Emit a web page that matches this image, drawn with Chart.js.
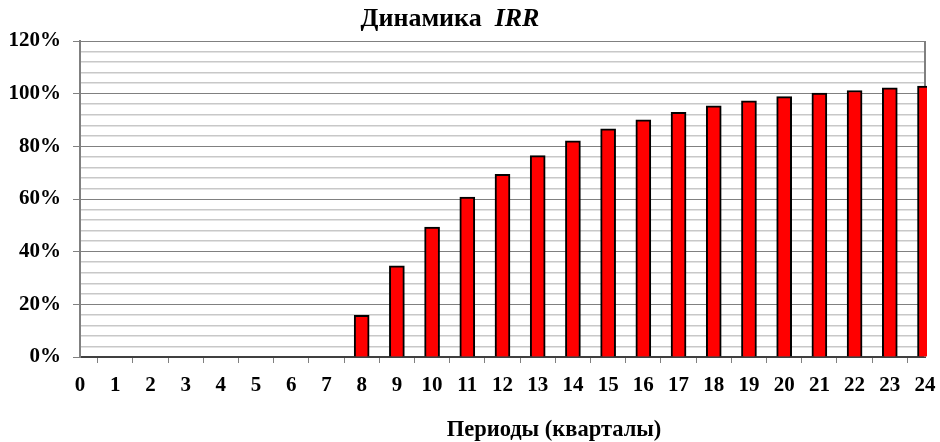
<!DOCTYPE html>
<html><head><meta charset="utf-8">
<script src="https://cdn.jsdelivr.net/npm/chart.js@4"></script>
<style>html,body{margin:0;padding:0;background:#fff}#wrap{width:940px;height:442px;position:relative}</style>
</head><body><div id="wrap"><canvas id="c"></canvas></div>
<script>
const periods = ['0','1','2','3','4','5','6','7','8','9','10','11','12','13','14','15','16','17','18','19','20','21','22','23','24'];
const irr = [null,null,null,null,null,null,null,null,15.8,34.6,49.3,60.7,69.4,76.5,82.1,86.6,90.1,92.9,95.4,97.3,98.9,100.2,101.2,102.2,102.9];
const titleMain = 'Динамика';
const titleItalic = 'IRR';
const xTitle = 'Периоды (кварталы)';
const FONT = '"Liberation Serif","Times New Roman",serif';

const textPlugin = {
  id: 'texts',
  beforeDatasetsDraw(chart) {
    const {ctx, chartArea: a} = chart;
    ctx.save();
    ctx.strokeStyle = '#808080';
    ctx.lineWidth = 2;
    ctx.beginPath();
    ctx.moveTo(a.right, a.top);
    ctx.lineTo(a.right, a.bottom);
    ctx.stroke();
    ctx.restore();
  },
  afterDraw(chart) {
    const ctx = chart.ctx;
    ctx.save();
    ctx.fillStyle = '#000';
    ctx.textBaseline = 'middle';
    ctx.font = 'bold 26px ' + FONT;
    const w1 = ctx.measureText(titleMain + '  ').width;
    ctx.font = 'bold italic 26px ' + FONT;
    const w2 = ctx.measureText(titleItalic).width;
    let x = 450 - (w1 + w2) / 2;
    ctx.font = 'bold 26px ' + FONT;
    ctx.fillText(titleMain + '  ', x, 19);
    ctx.font = 'bold italic 26px ' + FONT;
    ctx.fillText(titleItalic, x + w1, 19);
    ctx.font = 'bold 22.5px ' + FONT;
    ctx.textAlign = 'center';
    ctx.fillText(xTitle, 554, 430);
    ctx.restore();
  }
};

new Chart(document.getElementById('c'), {
  type: 'bar',
  data: {
    labels: periods,
    datasets: [{
      data: irr,
      backgroundColor: '#ff0000',
      borderColor: '#000000',
      borderWidth: 2,
      barThickness: 15,
      clip: {left: 0, right: 2, top: 10, bottom: 0}
    }]
  },
  options: {
    responsive: true,
    maintainAspectRatio: false,
    animation: false,
    devicePixelRatio: 1,
    layout: {padding: {top: 41, right: 15, left: 0, bottom: 0}},
    plugins: {legend: {display: false}, title: {display: false}, tooltip: {enabled: false}},
    scales: {
      x: {
        offset: false,
        grid: {display: true, drawOnChartArea: false, drawTicks: true, tickLength: 6, tickColor: '#808080', tickWidth: 1},
        border: {color: '#404040', width: 2},
        ticks: {color: '#000', font: {family: FONT, size: 21, weight: 'bold'}, padding: 10, maxRotation: 0, autoSkip: false},
        afterFit(s) { s.height = 85; s.paddingRight = 0; }
      },
      y: {
        min: 0, max: 120,
        ticks: {
          stepSize: 4, autoSkip: false, color: '#000', padding: 12,
          font: {family: FONT, size: 21, weight: 'bold'},
          callback: v => (v % 20 === 0 ? v + '%' : '')
        },
        grid: {
          color: c => (c.tick && c.tick.value % 20 === 0 ? '#808080' : '#c8c8c8'),
          lineWidth: c => (c.tick && c.tick.value % 20 === 0 ? 1 : 1.5),
          tickColor: c => (c.tick && c.tick.value % 20 === 0 ? '#808080' : 'rgba(0,0,0,0)'),
          tickLength: 7
        },
        border: {color: '#808080', width: 2},
        afterFit(s) { s.width = 80; }
      }
    }
  },
  plugins: [textPlugin]
});
</script></body></html>
